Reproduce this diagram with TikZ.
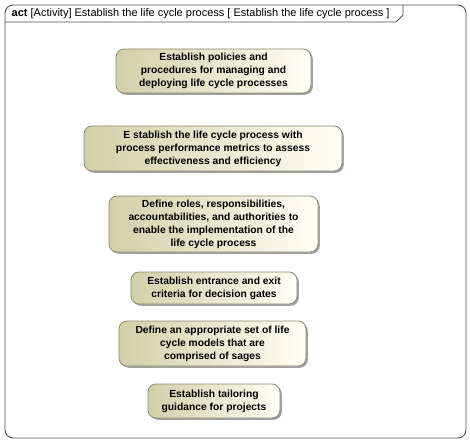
\documentclass[tikz,border=0pt]{standalone}
\usepackage{fontspec}
\setmainfont{Liberation Sans}
\usetikzlibrary{shadows}
\definecolor{frameline}{HTML}{505050}
\definecolor{boxline}{HTML}{8C8A6E}
\definecolor{boxleft}{HTML}{D2CFA8}
\definecolor{boxright}{HTML}{FFFFF6}
\tikzset{
  actbox/.style={draw=boxline, line width=0.8pt, rounded corners=8pt,
    left color=boxleft, right color=boxright, align=center,
    font=\fontsize{10.3}{13}\selectfont\bfseries, inner sep=2pt,
    drop shadow={shadow xshift=1.8pt, shadow yshift=-1.8pt, fill=black!45, opacity=0.8}},
  framestyle/.style={draw=frameline, line width=0.9pt}
}
\begin{document}
\begin{tikzpicture}[x=1pt,y=-1pt]
\useasboundingbox (0,0) rectangle (470,443);
\draw[framestyle, rounded corners=8pt] (5,5) rectangle (466,438);
\draw[framestyle] (5,22) -- (396,22) -- (403,15) -- (403,5);
\node[anchor=west, inner sep=0pt, font=\fontsize{11}{13}\selectfont] (title) at (11.5,14)
  {\textbf{act} [Activity] Establish the life cycle process [ Establish the life cycle process ]};
\node[actbox, minimum width=195pt, minimum height=44pt] (b1) at (213.5,71)
  {Establish policies and\\procedures for managing and\\deploying life cycle processes};
\node[actbox, minimum width=258pt, minimum height=45pt] (b2) at (213,148.5)
  {E stablish the life cycle process with\\process performance metrics to assess\\effectiveness and efficiency};
\node[actbox, minimum width=209pt, minimum height=56pt] (b3) at (213.5,224)
  {Define roles, responsibilities,\\accountabilities, and authorities to\\enable the implementation of the\\life cycle process};
\node[actbox, minimum width=166pt, minimum height=32pt] (b4) at (214,288)
  {Establish entrance and exit\\criteria for decision gates};
\node[actbox, minimum width=187pt, minimum height=45pt] (b5) at (212.5,343.5)
  {Define an appropriate set of life\\cycle models that are\\comprised of sages};
\node[actbox, minimum width=132pt, minimum height=34pt] (b6) at (214,401)
  {Establish tailoring\\guidance for projects};
\end{tikzpicture}
\end{document}
